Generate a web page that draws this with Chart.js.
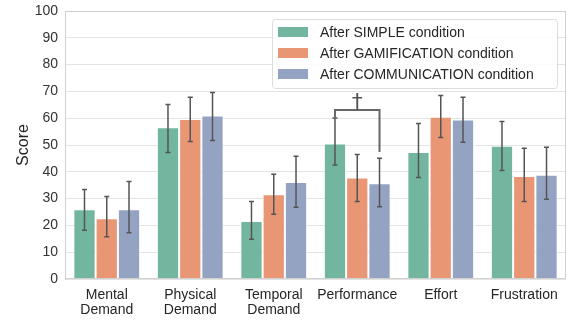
<!DOCTYPE html>
<html>
<head>
<meta charset="utf-8">
<script src="https://cdn.jsdelivr.net/npm/chart.js@4"></script>
<style>
  html, body { margin: 0; padding: 0; background: #fff; }
  #wrap { width: 568px; height: 321px; }
</style>
</head>
<body>
<div id="wrap"><canvas id="nasaChart"></canvas></div>
<script>
// NASA-TLX sub-scales
const categories = [["Mental", "Demand"], ["Physical", "Demand"], ["Temporal", "Demand"], "Performance", "Effort", "Frustration"];
const seriesNames = ["After SIMPLE condition", "After GAMIFICATION condition", "After COMMUNICATION condition"];

const simpleScores = [26, 56.6, 21.6, 50.6, 47.4, 49.7];
const gamificationScores = [22.7, 59.7, 31.6, 37.9, 60.5, 38.4];
const communicationScores = [26, 61, 36.2, 35.7, 59.5, 38.9];

// confidence intervals (low / high)
const simpleLow = [18.2, 47.2, 14.8, 42.5, 37.9, 40.5];
const simpleHigh = [33.4, 65.1, 28.9, 60.1, 58.0, 58.8];
const gamificationLow = [15.8, 51.3, 24.2, 28.9, 52.8, 28.9];
const gamificationHigh = [30.8, 67.8, 39.1, 46.5, 68.5, 48.8];
const communicationLow = [17.3, 51.7, 26.8, 27.0, 51.0, 29.8];
const communicationHigh = [36.4, 69.6, 45.8, 45.1, 67.8, 49.2];

const yTicks = [0, 10, 20, 30, 40, 50, 60, 70, 80, 90, 100];

const colors = ["#73b6a0", "#e99675", "#95a3c3"];
const FONT = "'Liberation Sans', Arial, sans-serif";

const errLow = [simpleLow, gamificationLow, communicationLow];
const errHigh = [simpleHigh, gamificationHigh, communicationHigh];

const extrasPlugin = {
  id: "extras",
  afterDatasetsDraw(chart) {
    const c = chart.ctx;
    const y = chart.scales.y;
    const area = chart.chartArea;

    // error bars
    c.save();
    c.strokeStyle = "#555";
    c.lineWidth = 1.5;
    chart.data.datasets.forEach((ds, i) => {
      chart.getDatasetMeta(i).data.forEach((bar, j) => {
        const lo = y.getPixelForValue(errLow[i][j]);
        const hi = y.getPixelForValue(errHigh[i][j]);
        c.beginPath();
        c.moveTo(bar.x, lo); c.lineTo(bar.x, hi);
        c.moveTo(bar.x - 2.5, lo); c.lineTo(bar.x + 2.5, lo);
        c.moveTo(bar.x - 2.5, hi); c.lineTo(bar.x + 2.5, hi);
        c.stroke();
      });
    });
    c.restore();

    // significance bracket: Performance, SIMPLE vs COMMUNICATION
    const k = 3;
    const x1 = chart.getDatasetMeta(0).data[k].x;
    const x2 = chart.getDatasetMeta(2).data[k].x;
    const top = y.getPixelForValue(Math.max(simpleHigh[k], communicationHigh[k]) + 3);
    const e1 = y.getPixelForValue(simpleHigh[k] + 0.3);
    const e2 = y.getPixelForValue(communicationHigh[k] + 2.3);
    c.save();
    c.strokeStyle = "#666";
    c.lineWidth = 2;
    c.beginPath();
    c.moveTo(x1, e1); c.lineTo(x1, top); c.lineTo(x2, top); c.lineTo(x2, e2);
    c.stroke();
    c.fillStyle = "#555";
    c.font = "22px 'DejaVu Sans', sans-serif";
    c.textAlign = "center";
    c.textBaseline = "alphabetic";
    c.fillText("\u2020", (x1 + x2) / 2, top - 1);
    c.restore();

    // legend inside the plot, top right
    const bw = 285, bh = 69;
    const lx = area.right - 9 - bw, ly = area.top + 8;
    c.save();
    c.fillStyle = "rgba(255,255,255,0.85)";
    c.strokeStyle = "#dcdcdc";
    c.lineWidth = 1;
    c.beginPath();
    c.roundRect(lx + 0.5, ly + 0.5, bw, bh, 3);
    c.fill();
    c.stroke();
    c.font = "14px " + FONT;
    c.textBaseline = "middle";
    c.textAlign = "left";
    seriesNames.forEach((name, i) => {
      const cy = ly + 13 + i * 21;
      c.fillStyle = colors[i];
      c.fillRect(lx + 6, cy - 5, 30, 10);
      c.fillStyle = "#262626";
      c.fillText(name, lx + 48, cy + 1.5);
    });
    c.restore();

    // frame
    c.save();
    c.strokeStyle = "#d0d0d0";
    c.lineWidth = 1;
    c.strokeRect(Math.round(area.left) + 0.5, Math.round(area.top) + 0.5, Math.round(area.width) - 1, Math.round(area.height) - 1);
    c.restore();
  }
};

new Chart(document.getElementById("nasaChart"), {
  type: "bar",
  data: {
    labels: categories,
    datasets: [simpleScores, gamificationScores, communicationScores].map((d, i) => ({
      label: seriesNames[i],
      data: d,
      backgroundColor: colors[i],
      borderColor: "#ffffff",
      borderWidth: 1,
      categoryPercentage: 0.8,
      barPercentage: 1.0
    }))
  },
  options: {
    responsive: true,
    maintainAspectRatio: false,
    animation: false,
    layout: { padding: { top: 11, right: 2, left: 0, bottom: 0 } },
    plugins: {
      legend: { display: false },
      tooltip: { enabled: false }
    },
    scales: {
      x: {
        grid: { display: false },
        border: { display: false },
        afterFit: (s) => { s.height = 42; s.paddingLeft = 0; s.paddingRight = 0; },
        ticks: { color: "#262626", font: { family: FONT, size: 14, lineHeight: 1.07 }, maxRotation: 0, autoSkip: false, padding: 1 }
      },
      y: {
        min: 0,
        max: 100,
        afterBuildTicks: (axis) => { axis.ticks = yTicks.map(v => ({ value: v })); },
        afterFit: (s) => { s.width = 65; s.paddingTop = 0; s.paddingBottom = 0; },
        grid: { color: "#e3e3e3", lineWidth: 1, drawTicks: false },
        border: { display: false },
        ticks: { color: "#333", font: { family: FONT, size: 14 }, padding: 7 },
        title: { display: true, text: "Score", color: "#262626", font: { family: FONT, size: 16 }, padding: { top: 14, bottom: 4 } }
      }
    }
  },
  plugins: [extrasPlugin]
});
</script>
</body>
</html>
